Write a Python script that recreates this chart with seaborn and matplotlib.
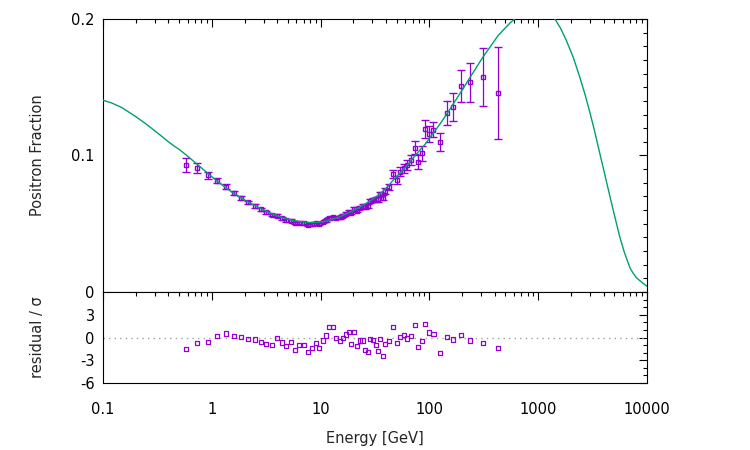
import matplotlib
matplotlib.use("Agg")
import matplotlib.pyplot as plt
from matplotlib.ticker import FixedLocator, FixedFormatter, LogLocator, MultipleLocator, NullFormatter
import pandas as pd
import seaborn as sns

# measured points (energy in GeV)
energy = [0.58, 0.736, 0.917, 1.12, 1.35, 1.6, 1.85, 2.15, 2.48, 2.81, 3.15, 3.55, 3.98, 4.42,
          4.84, 5.35, 5.82, 6.37, 7.0, 7.6, 8.28, 9.0, 9.73, 10.5, 11.3, 12.0, 13.0, 13.9, 15.0,
          16.0, 17.0, 18.1, 19.0, 20.3, 21.6, 22.9, 24.3, 25.7, 27.3, 28.6, 30.3, 32.1, 33.7, 35.2,
          37.2, 39.4, 42.3, 46.0, 50.0, 53.7, 58.4, 62.7, 67.8, 73.3, 78.6, 85.0, 91.1, 98.5, 109.0,
          126.0, 145.0, 165.0, 194.0, 238.0, 309.0, 430.0]
fraction = [0.0930, 0.0911, 0.0855, 0.0815, 0.0771, 0.0725, 0.0691, 0.0657, 0.0631, 0.0606,
            0.0583, 0.0565, 0.0558, 0.0540, 0.0525, 0.0522, 0.0506, 0.0507, 0.0502, 0.0491,
            0.0495, 0.0503, 0.0498, 0.0512, 0.0524, 0.0540, 0.0548, 0.0542, 0.0548, 0.0560,
            0.0574, 0.0589, 0.0580, 0.0608, 0.0597, 0.0617, 0.0629, 0.0623, 0.0631, 0.0666,
            0.0677, 0.0679, 0.0680, 0.0717, 0.0692, 0.0738, 0.0767, 0.0864, 0.0820, 0.0882,
            0.0905, 0.0928, 0.0967, 0.1057, 0.0953, 0.1016, 0.1194, 0.1157, 0.1190, 0.1100,
            0.1314, 0.1357, 0.1507, 0.1536, 0.1575, 0.1460]
sigma = [0.0053, 0.0037, 0.0026, 0.0020, 0.0017, 0.0015, 0.0014, 0.0013, 0.0012, 0.0011,
         0.0011, 0.0010, 0.0010, 0.0010, 0.0010, 0.0010, 0.0010, 0.0010, 0.0010, 0.0010,
         0.0010, 0.0010, 0.0010, 0.0010, 0.0010, 0.0010, 0.0010, 0.0010, 0.0010, 0.0011,
         0.0011, 0.0011, 0.0011, 0.0012, 0.0012, 0.0012, 0.0013, 0.0013, 0.0014, 0.0014,
         0.0015, 0.0016, 0.0017, 0.0018, 0.0019, 0.0021, 0.0023, 0.0027, 0.0030, 0.0032,
         0.0035, 0.0037, 0.0040, 0.0046, 0.0050, 0.0055, 0.0066, 0.0060, 0.0055, 0.0065,
         0.0088, 0.0104, 0.0117, 0.0145, 0.0210, 0.0336]
residual = [-1.52, -0.74, -0.56, 0.17, 0.52, 0.17, 0.09, -0.22, -0.26, -0.56, -0.87, -1.04,
            -0.09, -0.65, -1.17, -0.61, -1.60, -0.95, -1.00, -1.87, -1.39, -0.74, -1.39, -0.39,
            0.26, 1.39, 1.39, -0.04, -0.43, -0.09, 0.39, 0.78, -0.83, 0.70, -1.17, -0.39, -0.39,
            -1.70, -1.96, -0.17, -0.35, -1.04, -1.74, -0.22, -2.39, -0.83, -0.48, 1.35, -0.74,
            0.04, 0.30, -0.13, 0.22, 1.61, -1.30, -0.43, 1.78, 0.65, 0.48, -2.04, 0.04, -0.26,
            0.30, -0.39, -0.78, -1.39]

# fitted model curve
model_energy = [0.1, 0.12, 0.15, 0.2, 0.25, 0.3, 0.35, 0.4, 0.45, 0.5, 0.58, 0.736, 0.917,
                1.12, 1.35, 1.6, 1.85, 2.15, 2.5, 2.8, 3.15, 3.55, 4.0, 4.4, 4.85, 5.35, 5.8,
                6.4, 7.0, 7.6, 8.3, 9.0, 9.7, 10.5, 11.3, 12.0, 13.0, 14.0, 15.0, 16.0, 17.0,
                18.0, 19.0, 20.3, 21.6, 23.0, 24.3, 25.7, 27.3, 28.6, 30.3, 32.0, 33.7, 35.2,
                37.2, 39.4, 42.3, 46.0, 50.0, 55.0, 60.0, 65.0, 70.0, 75.0, 80.0, 85.0, 91.0,
                100.0, 110.0, 125.0, 145.0, 165.0, 195.0, 240.0, 310.0, 430.0, 550.0, 650.0,
                800.0, 1000.0, 1200.0, 1400.0, 1600.0, 1800.0, 2100.0, 2400.0, 2700.0, 3000.0,
                3300.0, 3700.0, 4100.0, 4600.0, 5000.0, 5600.0, 6200.0, 7000.0, 7500.0, 8000.0,
                9000.0, 10000.0]
model_fraction = [0.1405, 0.1385, 0.1350, 0.1285, 0.1230, 0.1180, 0.1138, 0.1100, 0.1070,
                  0.1045, 0.1005, 0.0935, 0.0870, 0.0812, 0.0762, 0.0722, 0.0690, 0.0660,
                  0.0632, 0.0612, 0.0593, 0.0575, 0.0559, 0.0547, 0.0537, 0.0528, 0.0522,
                  0.0516, 0.0512, 0.0510, 0.0509, 0.0510, 0.0512, 0.0516, 0.0521, 0.0526,
                  0.0534, 0.0544, 0.0552, 0.0561, 0.0570, 0.0580, 0.0589, 0.0600, 0.0611,
                  0.0622, 0.0634, 0.0645, 0.0658, 0.0668, 0.0682, 0.0696, 0.0709, 0.0721,
                  0.0737, 0.0755, 0.0780, 0.0815, 0.0845, 0.0880, 0.0912, 0.0945, 0.0975,
                  0.1005, 0.1030, 0.1055, 0.1080, 0.1125, 0.1170, 0.1230, 0.1305, 0.1375,
                  0.1465, 0.1580, 0.1720, 0.1880, 0.1970, 0.2020, 0.2070, 0.2090, 0.2070,
                  0.2010, 0.1935, 0.1850, 0.1720, 0.1580, 0.1445, 0.1310, 0.1180, 0.1010,
                  0.0860, 0.0690, 0.0570, 0.0410, 0.0290, 0.0175, 0.0135, 0.0105, 0.0070,
                  0.0042]

x_ticks = [0.1, 1, 10, 100, 1000, 10000]
x_tick_labels = ["0.1", "1", "10", "100", "1000", "10000"]
y_ticks = [0, 0.1, 0.2]
y_tick_labels = ["0", "0.1", "0.2"]
r_ticks = [-6, -3, 0, 3]
r_tick_labels = ["-6", "-3", "0", "3"]

PURPLE = "#9400d3"
GREEN = "#009e73"


def style_axis(ax):
    ax.set_xscale("log")
    ax.set_xlim(0.1, 10000)
    ax.xaxis.set_major_locator(FixedLocator(x_ticks))
    ax.xaxis.set_minor_locator(LogLocator(base=10, subs=range(2, 10), numticks=20))
    ax.xaxis.set_minor_formatter(NullFormatter())
    ax.tick_params(which="both", direction="in", top=True, right=True, color="black",
                   labelsize=10.5, labelcolor="black")
    ax.tick_params(which="major", length=6, width=0.8)
    ax.tick_params(which="minor", length=3, width=0.8)
    for spine in ax.spines.values():
        spine.set_color("black")
        spine.set_linewidth(0.8)
    ax.grid(False)


def main():
    sns.set_theme(style="white")
    plt.rcParams["font.family"] = ["DejaVu Sans"]

    points = pd.DataFrame({"energy": energy, "fraction": fraction, "sigma": sigma,
                           "residual": residual})
    model = pd.DataFrame({"energy": model_energy, "fraction": model_fraction})

    fig = plt.figure(figsize=(7.5, 4.5), dpi=100)
    ax = fig.add_axes([0.1373, 0.3511, 0.7253, 0.6067])
    axr = fig.add_axes([0.1373, 0.1489, 0.7253, 0.2022])

    ax.errorbar(points.energy, points.fraction, yerr=points.sigma, fmt="s", ms=2.5,
                mfc="none", mec=PURPLE, mew=1, ecolor=PURPLE, elinewidth=0.9,
                capsize=3, capthick=0.9, zorder=2)
    sns.lineplot(data=model, x="energy", y="fraction", color=GREEN, linewidth=1.0,
                 ax=ax, zorder=3)
    style_axis(ax)
    ax.set_ylim(0, 0.2)
    ax.yaxis.set_major_locator(FixedLocator(y_ticks))
    ax.yaxis.set_major_formatter(FixedFormatter(y_tick_labels))
    ax.yaxis.set_minor_locator(MultipleLocator(0.01))
    ax.tick_params(axis="x", labelbottom=False)
    ax.tick_params(axis="y", pad=6)
    ax.set_xlabel("")
    ax.set_ylabel("Positron Fraction", fontsize=10.5)
    ax.yaxis.set_label_coords(-0.107, 0.5)

    axr.axhline(0, color="#a0a0a0", linestyle=(0, (1, 3)), linewidth=1, zorder=1)
    sns.scatterplot(data=points, x="energy", y="residual", marker="s", s=9,
                    color="none", edgecolor=PURPLE, linewidth=0.9, ax=axr, zorder=3)
    style_axis(axr)
    axr.set_ylim(-6, 6)
    axr.yaxis.set_major_locator(FixedLocator(r_ticks))
    axr.yaxis.set_major_formatter(FixedFormatter(r_tick_labels))
    axr.yaxis.set_minor_locator(MultipleLocator(1))
    axr.xaxis.set_major_formatter(FixedFormatter(x_tick_labels))
    axr.tick_params(axis="x", pad=14)
    axr.tick_params(axis="y", pad=6)
    axr.set_xlabel("Energy [GeV]", fontsize=10.5, labelpad=10)
    axr.set_ylabel("residual / σ", fontsize=10.5)
    axr.yaxis.set_label_coords(-0.107, 0.5)

    fig.savefig("out.png", dpi=100)
    plt.close(fig)


if __name__ == "__main__":
    main()
